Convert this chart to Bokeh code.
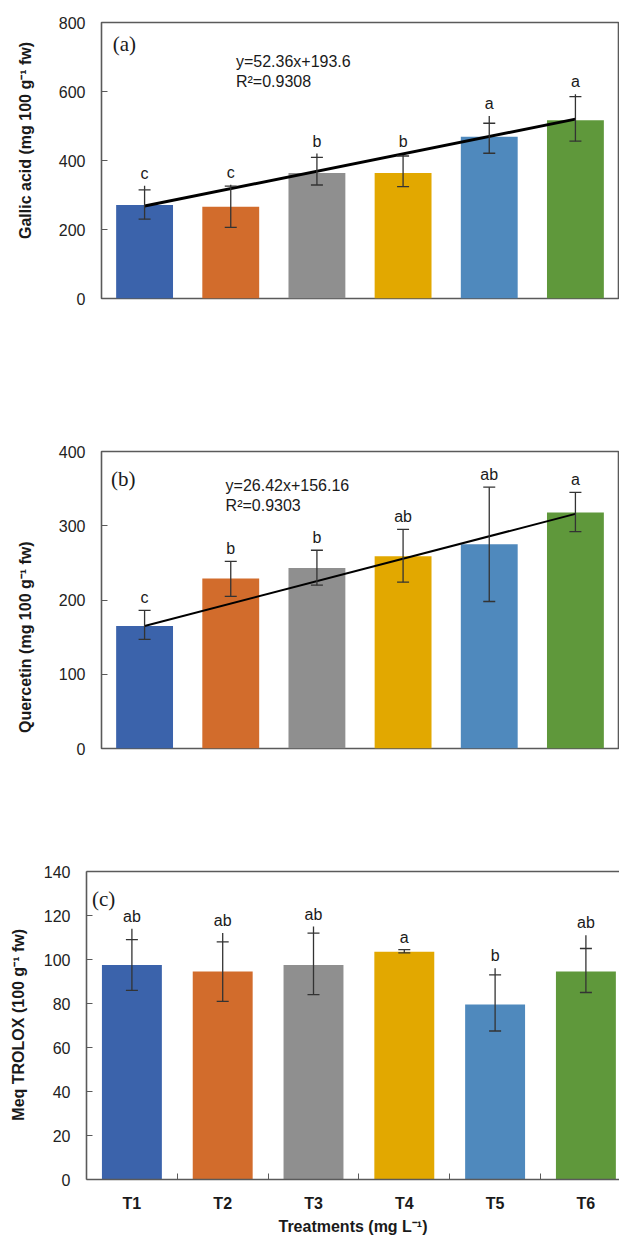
import math
from bokeh.plotting import figure
from bokeh.models import ColumnDataSource, Range1d, FixedTicker, LinearAxis, Whisker, Label, TeeHead
from bokeh.layouts import column, row
from bokeh.embed import file_html
from bokeh.resources import INLINE
from bokeh.core.properties import value

treatments = ["T1", "T2", "T3", "T4", "T5", "T6"]
bar_colors = ["#3B63AB", "#D26C2C", "#8F8F8F", "#E2A800", "#4F89BD", "#5F983B"]

gallic_mean = [271, 266, 364, 364, 469, 517]
gallic_lower = [230, 206, 329, 324, 421, 456]
gallic_upper = [315, 326, 409, 413, 508, 585]
gallic_top = [327, 330, 420, 418, 529, 592]
gallic_letters = ["c", "c", "b", "b", "a", "a"]
gallic_trend = [268, 520]

quercetin_mean = [165, 229, 243, 259, 275, 318]
quercetin_lower = [147, 205, 220, 224, 198, 292]
quercetin_upper = [186, 252, 267, 295, 352, 345]
quercetin_top = quercetin_upper
quercetin_letters = ["c", "b", "b", "ab", "ab", "a"]
quercetin_trend = [165, 316]

trolox_mean = [97.5, 94.5, 97.5, 103.5, 79.5, 94.5]
trolox_lower = [86, 81, 84, 103, 67.5, 85]
trolox_upper = [109, 108, 112, 104.5, 93, 105]
trolox_top = [114, 112, 115, 104.5, 96, 111]
trolox_letters = ["ab", "ab", "ab", "a", "b", "ab"]

SANS = "Liberation Sans"
SERIF = "Liberation Serif"
FRAME = "#5a5a5a"
TXT = "#1a1a1a"
ERR = "#333333"
LABEL_W = 36


def label_strip(height, text, cx, cy_from_top):
    q = figure(width=LABEL_W, height=height, output_backend="svg", toolbar_location=None,
               x_range=Range1d(0, LABEL_W), y_range=Range1d(0, height),
               min_border=0, min_border_left=0, min_border_right=0,
               min_border_top=0, min_border_bottom=0)
    q.axis.visible = False
    q.grid.visible = False
    q.outline_line_color = None
    q.add_layout(Label(x=cx, y=height - cy_from_top, text=text, angle=math.pi / 2,
                       text_align="center", text_baseline="middle", text_font=SANS,
                       text_font_style="bold", text_font_size="16px", text_color=TXT))
    return q


def make_panel(height, border_top, border_bottom, border_left, x_end, y_end, y_ticks,
               mean, lower, upper, top, letters):
    xs = list(range(1, len(treatments) + 1))
    src = ColumnDataSource(dict(x=xs, mean=mean, lower=lower, upper=upper, top=top,
                                letters=letters, color=bar_colors, name=treatments))
    p = figure(width=619 - LABEL_W, height=height, output_backend="svg", toolbar_location=None,
               x_range=Range1d(0.5, x_end), y_range=Range1d(0, y_end),
               min_border_top=border_top, min_border_bottom=border_bottom,
               min_border_left=border_left - LABEL_W, min_border_right=1)
    p.grid.visible = False
    p.background_fill_color = "white"
    p.border_fill_color = "white"
    p.vbar(x="x", top="mean", width=0.66, fill_color="color", line_color=None, source=src)
    p.segment(x0="x", y0="upper", x1="x", y1="top", line_color=ERR, line_width=1.3, source=src)
    w = Whisker(source=src, base="x", upper="upper", lower="lower", level="overlay",
                line_color=ERR, line_width=1.3,
                upper_head=TeeHead(size=12, line_color=ERR, line_width=1.3),
                lower_head=TeeHead(size=12, line_color=ERR, line_width=1.3))
    p.add_layout(w)
    p.text(x="x", y="top", text="letters", source=src, text_align="center",
           text_baseline="bottom", y_offset=-4, text_font=value(SANS),
           text_font_size="16px", text_color=TXT)
    ax = p.yaxis[0]
    ax.ticker = FixedTicker(ticks=y_ticks)
    ax.major_tick_in = 6
    ax.major_tick_out = 0
    ax.minor_tick_line_color = None
    ax.major_tick_line_color = FRAME
    ax.major_label_standoff = 16
    ax.major_label_text_font = SANS
    ax.major_label_text_font_size = "16px"
    ax.major_label_text_color = "#222222"
    return p, xs


# ---- panel (a)
HA = 338
pa, xs = make_panel(HA, 22, 40, 101, 6.5, 800, [0, 200, 400, 600, 800],
                    gallic_mean, gallic_lower, gallic_upper, gallic_top, gallic_letters)
pa.line(x=[xs[0], xs[-1]], y=gallic_trend, line_color="black", line_width=3)
pa.xaxis.visible = False
pa.yaxis.axis_line_color = None
pa.outline_line_color = FRAME
pa.outline_line_width = 1.6
pa.add_layout(Label(x=0.63, y=738, text="(a)", text_font=SERIF, text_font_size="21px",
                    text_baseline="middle", text_color=TXT))
pa.add_layout(Label(x=2.06, y=686, text="y=52.36x+193.6", text_font=SANS, text_font_size="16px",
                    text_baseline="middle", text_color=TXT))
pa.add_layout(Label(x=2.06, y=628, text="R\u00b2=0.9308", text_font=SANS, text_font_size="16px",
                    text_baseline="middle", text_color=TXT))
la = label_strip(HA, "Gallic acid (mg 100 g\u207b\u00b9 fw)", 25, 144.5)

# ---- panel (b)
HB = 451
pb, xs = make_panel(HB, 113, 41, 101, 6.5, 400, [0, 100, 200, 300, 400],
                    quercetin_mean, quercetin_lower, quercetin_upper, quercetin_top, quercetin_letters)
pb.line(x=[xs[0], xs[-1]], y=quercetin_trend, line_color="black", line_width=2)
pb.xaxis.visible = False
pb.yaxis.axis_line_color = None
pb.outline_line_color = FRAME
pb.outline_line_width = 1.6
pb.add_layout(Label(x=0.61, y=363, text="(b)", text_font=SERIF, text_font_size="21px",
                    text_baseline="middle", text_color=TXT))
pb.add_layout(Label(x=1.94, y=354, text="y=26.42x+156.16", text_font=SANS, text_font_size="16px",
                    text_baseline="middle", text_color=TXT))
pb.add_layout(Label(x=1.94, y=327, text="R\u00b2=0.9303", text_font=SANS, text_font_size="16px",
                    text_baseline="middle", text_color=TXT))
lb = label_strip(HB, "Quercetin (mg 100 g\u207b\u00b9 fw)", 25, 282)

# ---- panel (c)
HC = 448
pc, xs = make_panel(HC, 82, 55, 86, 6.37, 140, [0, 20, 40, 60, 80, 100, 120, 140],
                    trolox_mean, trolox_lower, trolox_upper, trolox_top, trolox_letters)
pc.min_border_right = 0
pc.outline_line_color = None
pc.yaxis.axis_line_color = FRAME
pc.yaxis.axis_line_width = 1.6
xa = pc.xaxis[0]
xa.ticker = FixedTicker(ticks=xs, minor_ticks=[x + 0.5 for x in xs[:-1]])
xa.major_label_overrides = {x: t for x, t in zip(xs, treatments)}
xa.major_tick_line_color = None
xa.minor_tick_in = 6
xa.minor_tick_out = 0
xa.minor_tick_line_color = FRAME
xa.axis_line_color = FRAME
xa.axis_line_width = 1.6
xa.major_label_standoff = 9
xa.major_label_text_font = SANS
xa.major_label_text_font_style = "bold"
xa.major_label_text_font_size = "16px"
xa.major_label_text_color = TXT
xa.axis_label = "Treatments (mg L\u207b\u00b9)"
xa.axis_label_text_font = SANS
xa.axis_label_text_font_style = "bold"
xa.axis_label_text_font_size = "16px"
xa.axis_label_text_color = TXT
xa.axis_label_standoff = 3
top_axis = LinearAxis(ticker=FixedTicker(ticks=[]), axis_line_color=FRAME, axis_line_width=1.6,
                      major_label_text_font_size="0px", major_tick_line_color=None,
                      minor_tick_line_color=None)
pc.add_layout(top_axis, "above")
pc.add_layout(Label(x=0.56, y=127.7, text="(c)", text_font=SERIF, text_font_size="21px",
                    text_baseline="middle", text_color=TXT))
lc = label_strip(HC, "Meq TROLOX (100 g\u207b\u00b9 fw)", 18, 223)

layout = column(row(la, pa), row(lb, pb), row(lc, pc))
open("out.html", "w").write(file_html(layout, INLINE))
